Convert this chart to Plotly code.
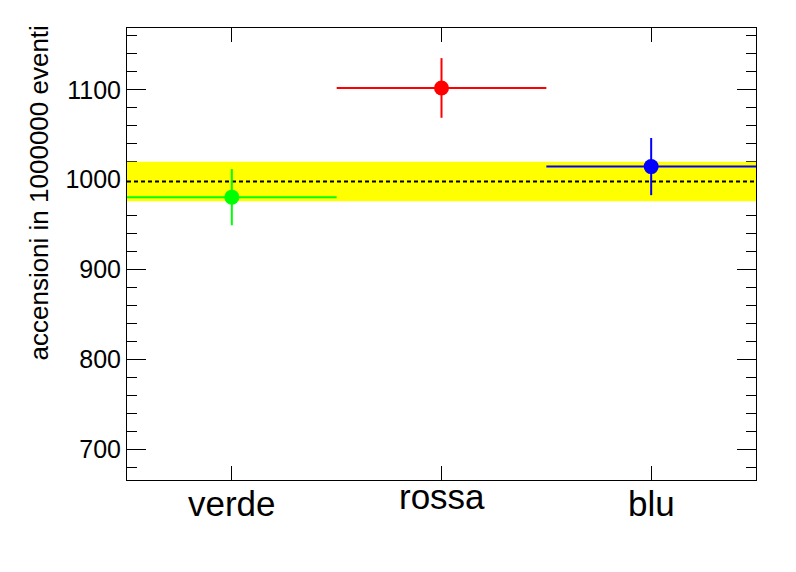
import plotly.graph_objects as go

categories = ["verde", "rossa", "blu"]
counts = [980.5, 1102.0, 1014.5]
count_errors = [31.3, 33.2, 31.8]
colors = ["#00ff00", "#ff0000", "#0000ff"]
bin_centers = [0.5, 1.5, 2.5]
bin_half_width = 0.5
expected = 998.0
expected_band = [976.0, 1020.0]
y_range = [665.8, 1168.7]
y_ticks = [700, 800, 900, 1000, 1100]
y_title = "accensioni in 1000000 eventi"

# per-label vertical nudges (ROOT centres labels on glyph box)
label_yshift = [0, 7, 0]

fig = go.Figure()

# yellow band (trace so that it lies above the axis ticks)
fig.add_trace(go.Scatter(
    x=[0, 3, 3, 0, 0],
    y=[expected_band[0], expected_band[0], expected_band[1], expected_band[1], expected_band[0]],
    mode="lines", fill="toself", fillcolor="#ffff00",
    line=dict(width=0, color="#ffff00"), hoverinfo="skip", showlegend=False))
# dotted expectation line
fig.add_trace(go.Scatter(
    x=[0, 3], y=[expected, expected], mode="lines",
    line=dict(color="black", width=2, dash="4px,3px"),
    hoverinfo="skip", showlegend=False))

for xc, yv, ye, c in zip(bin_centers, counts, count_errors, colors):
    fig.add_trace(go.Scatter(
        x=[xc], y=[yv], mode="markers",
        marker=dict(color=c, size=15, symbol="circle", line=dict(width=0)),
        error_x=dict(type="constant", value=bin_half_width, color=c, thickness=2, width=0),
        error_y=dict(type="constant", value=ye, color=c, thickness=2, width=0),
        showlegend=False, cliponaxis=True))

annotations = []
for xc, lab, ys in zip(bin_centers, categories, label_yshift):
    annotations.append(dict(
        x=xc, y=0, xref="x", yref="paper", text=lab, showarrow=False,
        xanchor="center", yanchor="top", yshift=ys - 2,
        font=dict(size=35, color="black")))
annotations.append(dict(
    x=0, y=1, xref="paper", yref="paper", text=y_title, showarrow=False,
    textangle=-90, xanchor="right", yanchor="top", xshift=-72, yshift=4,
    font=dict(size=26, color="black")))

fig.update_layout(
    width=796, height=572,
    margin=dict(l=119, r=48, t=20, b=100),
    paper_bgcolor="white", plot_bgcolor="white",
    font=dict(family="Liberation Sans, Arial, sans-serif", color="black"),
    annotations=annotations,
    xaxis=dict(range=[0, 3], tickvals=bin_centers, ticktext=[""] * len(categories),
               ticks="inside", ticklen=14, tickwidth=1, tickcolor="black",
               showline=True, linecolor="black", linewidth=1, mirror="allticks",
               showgrid=False, zeroline=False, layer="below traces"),
    yaxis=dict(range=y_range, tickvals=y_ticks,
               ticks="inside", ticklen=19, tickwidth=1, tickcolor="black",
               showline=True, linecolor="black", linewidth=1, mirror="allticks",
               showgrid=False, zeroline=False, tickfont=dict(size=25),
               layer="below traces",
               minor=dict(dtick=20, tick0=0, ticks="inside", ticklen=10, tickcolor="black", showgrid=False)),
)

fig.write_html("out.html")
